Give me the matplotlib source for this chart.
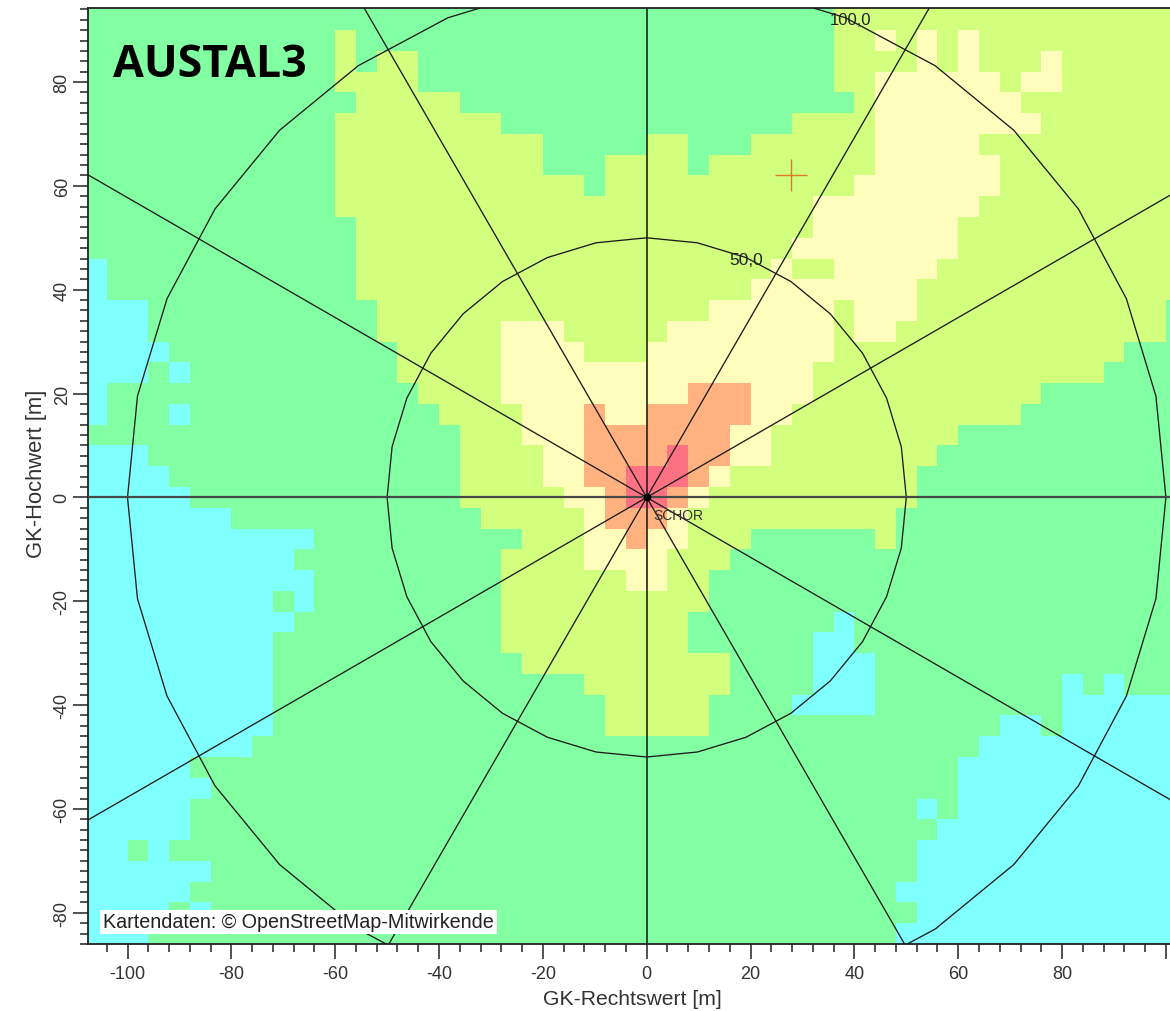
import numpy as np
import matplotlib
matplotlib.use("Agg")
import matplotlib.pyplot as plt
from matplotlib.colors import ListedColormap, BoundaryNorm
from matplotlib.ticker import MultipleLocator, FixedLocator

W, H = 1170, 1012
CLASSES = "cgypor"
CLASS_COLORS = ["#80FFFF", "#82FFA2", "#D2FF7E", "#FFFDBC", "#FFB280", "#FF7284"]

# run-length rows, top to bottom, west to east (class letter + number of cells)
ROWS = [
    "g36 y17",
    "g12 y1 g23 y2 p1 y1 p1 y1 p1 y10",
    "g12 y1 g1 y2 g20 y4 p1 y1 p1 y3 p1 y6",
    "g12 y4 g20 y2 p6 y1 p2 y6",
    "g13 y5 g19 y1 p7 y8",
    "g12 y8 g14 y4 p8 y7",
    "g12 y10 g5 y2 g3 y6 p5 y10",
    "g12 y10 g3 y4 g1 y8 p6 y9",
    "g12 y12 g1 y12 p7 y9",
    "g12 y23 p8 y10",
    "g13 y22 p7 y11",
    "g13 y21 p8 y11",
    "c1 g12 y20 p1 y2 p5 y12",
    "c1 g12 y19 p8 y13",
    "c3 g11 y16 p6 y1 p3 y12 g1",
    "c3 g11 y6 p3 y5 p8 y1 p2 y13 g1",
    "c4 g11 y5 p4 y3 p9 y14 g3",
    "c3 g1 c1 g10 y5 p15 y14 g4",
    "c1 g15 y4 p9 o3 p3 y11 g7",
    "c1 g3 c1 g12 y4 p3 o1 p2 o5 p2 y11 g8",
    "g18 y3 p3 o7 p2 y9 g11",
    "c3 g15 y4 p2 o4 r1 o2 p2 y8 g12",
    "c4 g14 y4 p2 o2 r3 o1 p1 y9 g13",
    "c5 g13 y5 p2 o1 r2 o1 p1 y10 g13",
    "c7 g12 y5 p1 o3 p1 y10 g14",
    "c11 g10 y3 p2 o1 p2 y3 g6 y1 g14",
    "c10 g10 y4 p4 y3 g22",
    "c11 g9 y6 p2 y2 g23",
    "c9 g1 c1 g9 y10 g23",
    "c10 g10 y9 g7 c1 g16",
    "c9 g11 y9 g6 c2 g16",
    "c9 g12 y10 g4 c3 g15",
    "c9 g15 y7 g4 c3 g9 c1 g1 c1 g3",
    "c9 g16 y5 g4 c4 g9 c6",
    "c9 g16 y5 g14 c2 g1 c6",
    "c8 g35 c10",
    "c5 g37 c11",
    "c6 g36 c11",
    "c5 g35 c1 g1 c11",
    "c5 g36 c12",
    "c2 g1 c1 g36 c13",
    "c6 g34 c13",
    "c5 g34 c14",
    "c4 g1 c1 g34 c13",
    "c3 g36 c14",
]
CELL = 4
X_FIRST_EDGE = -108
Y_FIRST_EDGE = 94

RADII = [50, 100]
RADIUS_LABELS = ["50,0", "100,0"]
SOURCE_NAME = "SCHOR"
SOURCE_XY = (0, 0)
CROSS_XY = (27.8, 62.1)
X_MAJOR = [-100, -80, -60, -40, -20, 0, 20, 40, 60, 80, 100]
Y_MAJOR = [-80, -60, -40, -20, 0, 20, 40, 60, 80]


def decode(row):
    out = []
    for tok in row.split():
        out += [CLASSES.index(tok[0])] * int(tok[1:])
    return out


grid = np.array([decode(r) for r in ROWS])
x_edges = X_FIRST_EDGE + CELL * np.arange(grid.shape[1] + 1)
y_edges = (Y_FIRST_EDGE - CELL * np.arange(grid.shape[0] + 1)).astype(float)
y_edges[0] = 95

plt.rcParams["font.family"] = ["Liberation Sans", "DejaVu Sans"]
fig = plt.figure(figsize=(W / 100, H / 100), dpi=100)
L, R, T, B = 87.5, 1170, 8.5, 945
ax = fig.add_axes([L / W, 1 - B / H, (R - L) / W, (B - T) / H])

cmap = ListedColormap(CLASS_COLORS)
norm = BoundaryNorm(np.arange(len(CLASSES) + 1) - 0.5, cmap.N)
ax.pcolormesh(x_edges, y_edges, grid, cmap=cmap, norm=norm, shading="flat", rasterized=True)

scale = 5.192
x0_px, y0_px = 646.7, 498.4
ax.set_xlim((L - x0_px) / scale, (R - x0_px) / scale)
ax.set_ylim((y0_px - B) / scale, (y0_px - T) / scale)

# polygonal range rings
angles = np.deg2rad(np.arange(0, 360 + 11.25, 11.25))
for r in RADII:
    ax.plot(r * np.sin(angles), r * np.cos(angles), color="#1c1c1c", lw=0.95, zorder=3)
# spokes
for deg in range(0, 360, 30):
    a = np.deg2rad(deg)
    if deg in (90, 270):
        lw, col = 1.6, "#484848"
    elif deg in (0, 180):
        lw, col = 1.2, "#222222"
    else:
        lw, col = 0.95, "#1c1c1c"
    ax.plot([0, 250 * np.sin(a)], [0, 250 * np.cos(a)], color=col, lw=lw, zorder=3)

ax.plot(*SOURCE_XY, "o", color="black", ms=5.5, mew=0, zorder=5)
ax.text(1.3, -3.3, SOURCE_NAME, fontsize=10, color="#303030", va="center", ha="left", zorder=5)
ax.text(19.1, 45.9, RADIUS_LABELS[0], fontsize=12.5, color="#222222", ha="center", va="center", zorder=5)
ax.text(39.2, 92.0, RADIUS_LABELS[1], fontsize=12, color="#222222", ha="center", va="center", zorder=5)
ax.plot(*CROSS_XY, marker="+", ms=23, mew=1.0, color="#E07A20", zorder=4)

fig.text(113 / W, 1 - 65.5 / H, "AUSTAL3", family="Open Sans", weight="bold",
         fontsize=32.2, color="black", ha="left", va="center", zorder=6)
fig.text(103 / W, 1 - 923 / H, "Kartendaten: © OpenStreetMap-Mitwirkende", fontsize=14.2, color="#222222",
         ha="left", va="center", zorder=10,
         bbox=dict(facecolor="white", edgecolor="none", pad=2.0))

ax.spines["right"].set_visible(False)
for s in ("left", "top", "bottom"):
    ax.spines[s].set_linewidth(1.3)
    ax.spines[s].set_color("#222222")

ax.xaxis.set_major_locator(FixedLocator(X_MAJOR))
ax.xaxis.set_minor_locator(MultipleLocator(4))
ax.yaxis.set_major_locator(FixedLocator(Y_MAJOR))
ax.yaxis.set_minor_locator(MultipleLocator(2))
ax.set_xticklabels([str(v) if v != 100 else "" for v in X_MAJOR], fontsize=13, color="#333333")
ax.set_yticklabels([str(v) for v in Y_MAJOR], fontsize=13, color="#333333", rotation=90, va="center")
ax.tick_params(axis="both", which="major", length=10.5, width=1.1, color="#222222")
ax.tick_params(axis="x", which="major", pad=4.5)
ax.tick_params(axis="y", which="major", pad=1.6)
ax.tick_params(axis="both", which="minor", length=5.5, width=1.1, color="#222222")
ax.set_xlabel("GK-Rechtswert [m]", fontsize=15.2, color="#333333", va="center")
ax.set_ylabel("GK-Hochwert [m]", fontsize=15.8, color="#333333", va="center")
ax.xaxis.set_label_coords((632.5 - L) / (R - L), 1 - (999.5 - T) / (B - T), transform=ax.transAxes)
ax.yaxis.set_label_coords((36.5 - L) / (R - L), 1 - (474 - T) / (B - T), transform=ax.transAxes)

fig.savefig("out.png", dpi=100, facecolor="white")
